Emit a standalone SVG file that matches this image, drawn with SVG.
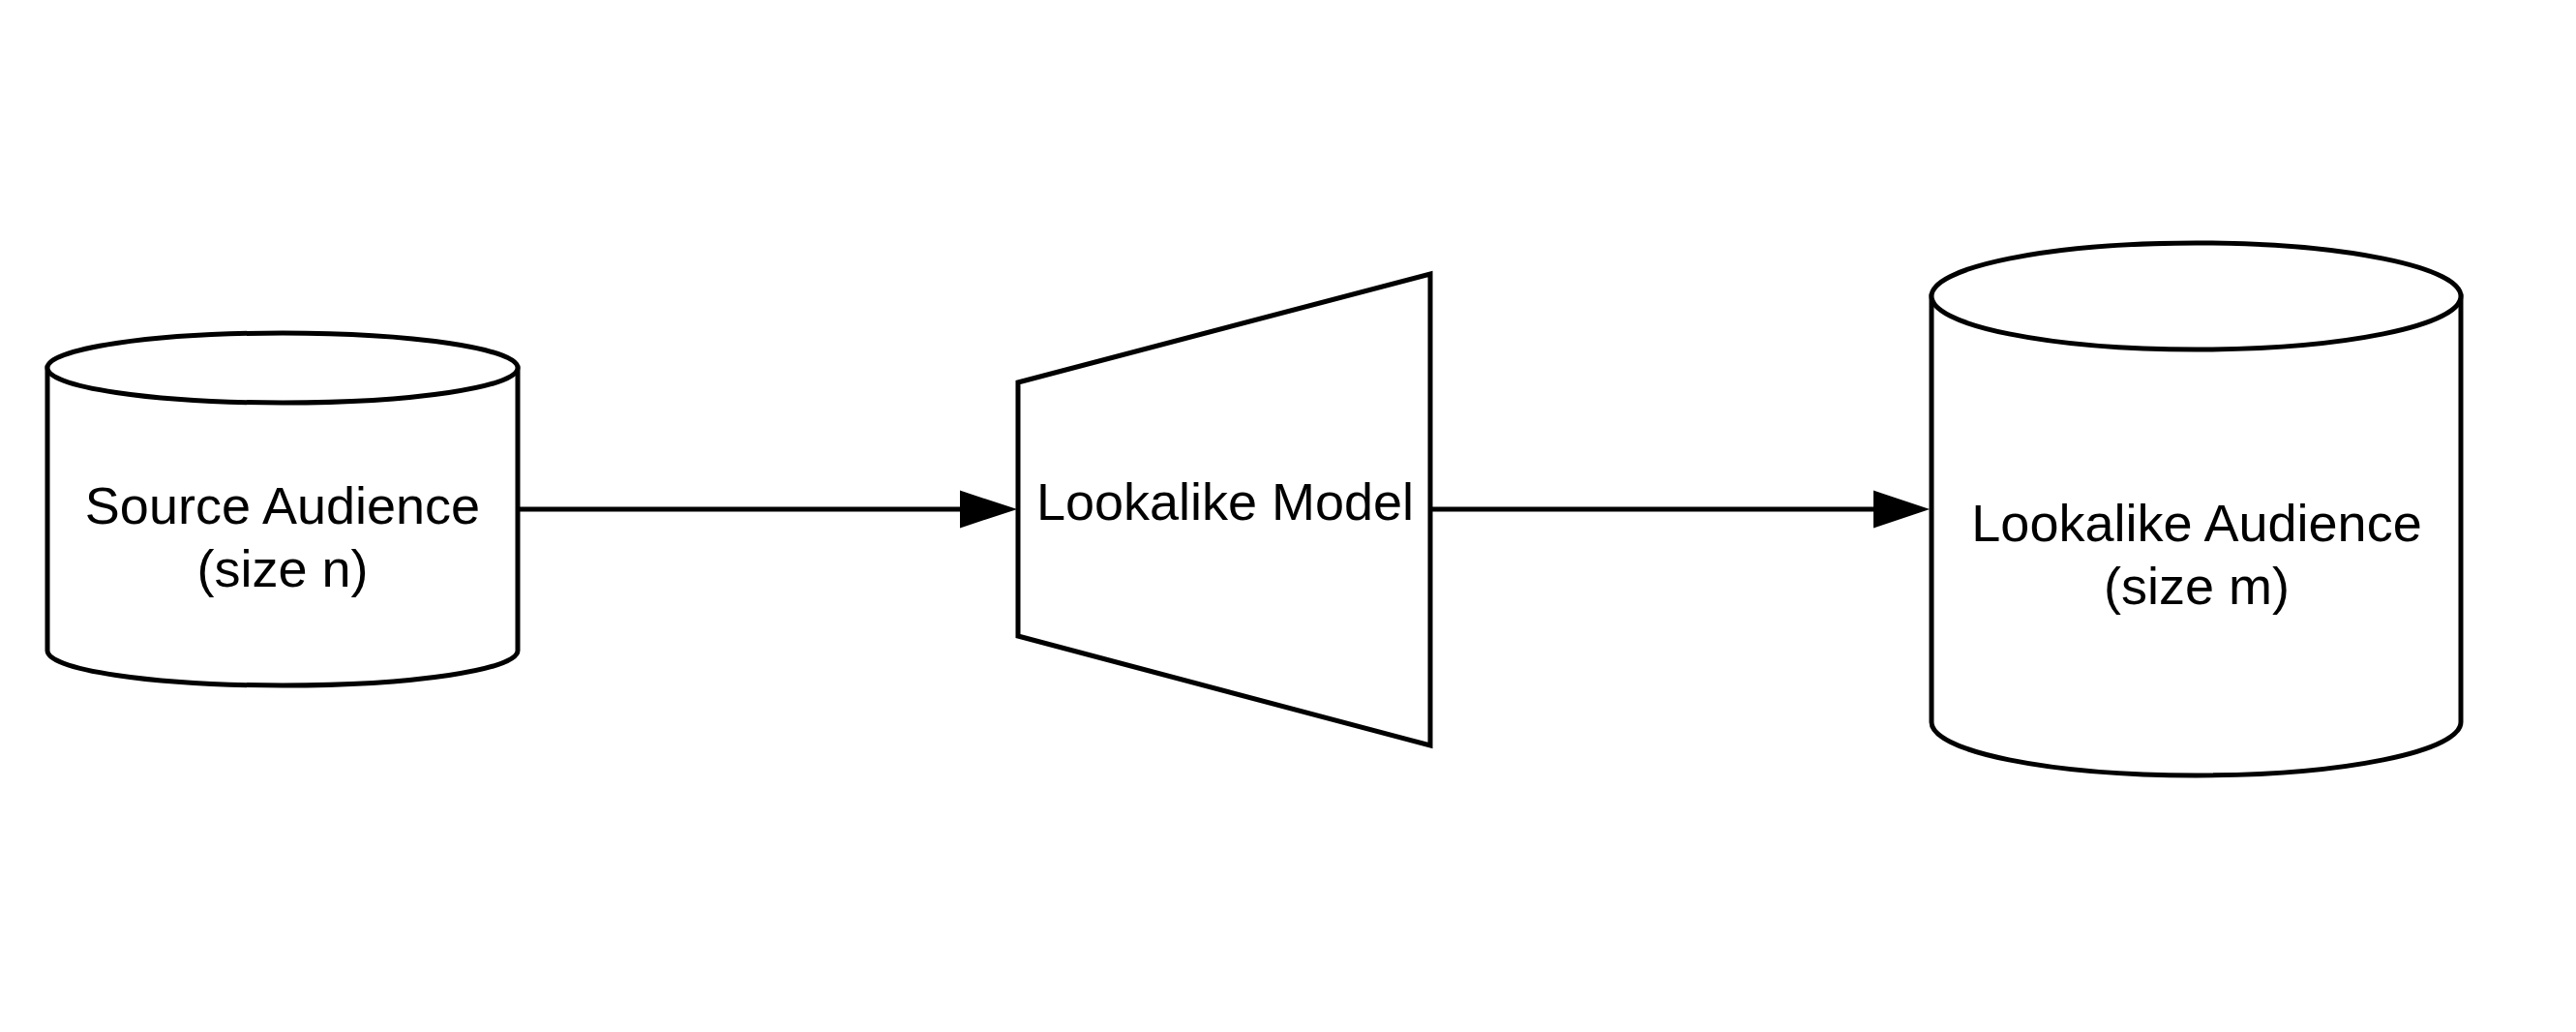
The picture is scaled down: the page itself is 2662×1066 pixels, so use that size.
<svg xmlns="http://www.w3.org/2000/svg" width="2662" height="1066" viewBox="0 0 2662 1066">
<style>
.shape{fill:#ffffff;stroke:#000000;stroke-width:5;stroke-linejoin:miter}
.edge{fill:none;stroke:#000000;stroke-width:5}
.head{fill:#000000;stroke:#000000;stroke-width:2}
.lbl{font-family:"Liberation Sans",Arial,sans-serif;font-size:54px;fill:#000000;text-anchor:middle}
</style>
<rect x="0" y="0" width="2662" height="1066" fill="#ffffff"/>
<g id="connectors">
<line class="edge" x1="535" y1="526" x2="996" y2="526"/>
<polygon class="head" points="993,508 1048,526 993,544"/>
<line class="edge" x1="1478" y1="526" x2="1940" y2="526"/>
<polygon class="head" points="1937,508 1991,526 1937,544"/>
</g>
<g id="source-audience">
<path class="shape" d="M49,380 L49,672 A243,36 0 0 0 535,672 L535,380 Z"/>
<ellipse class="shape" cx="292" cy="380" rx="243" ry="36"/>
<text class="lbl" x="292" y="541">Source Audience</text>
<text class="lbl" x="292" y="606">(size n)</text>
</g>
<g id="lookalike-model">
<polygon class="shape" points="1052,395 1478,283 1478,770 1052,657"/>
<text class="lbl" x="1266" y="537">Lookalike Model</text>
</g>
<g id="lookalike-audience">
<path class="shape" d="M1996,306 L1996,746 A273.5,55 0 0 0 2543,746 L2543,306 Z"/>
<ellipse class="shape" cx="2269.5" cy="306" rx="273.5" ry="55"/>
<text class="lbl" x="2270" y="559">Lookalike Audience</text>
<text class="lbl" x="2270" y="624">(size m)</text>
</g>
</svg>
